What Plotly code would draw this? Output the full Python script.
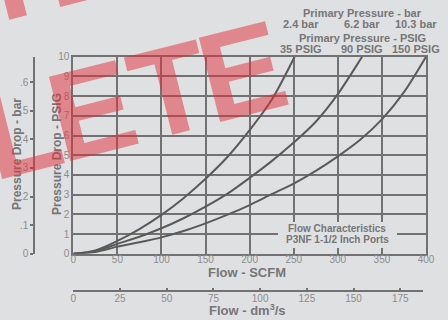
import plotly.graph_objects as go

# ---------------- data ----------------
flow_35 = [0, 25, 50, 75, 100, 125, 150, 175, 200, 225, 251]
drop_35 = [0, 0.17, 0.65, 1.25, 1.97, 2.82, 3.8, 4.92, 6.27, 7.81, 10.0]

flow_90 = [0, 25, 50, 75, 100, 125, 150, 175, 200, 225, 250, 275, 300, 325, 327.5]
drop_90 = [0, 0.13, 0.5, 0.86, 1.29, 1.8, 2.39, 3.05, 3.85, 4.7, 5.64, 6.7, 8.1, 9.82, 10.0]

flow_150 = [0, 25, 50, 75, 100, 125, 150, 175, 200, 225, 250, 275, 300, 325, 350, 375, 400]
drop_150 = [0, 0.09, 0.36, 0.58, 0.83, 1.15, 1.54, 1.98, 2.47, 3.02, 3.56, 4.2, 4.94, 5.77, 6.82, 8.2, 10.0]

scfm_ticks = [0, 50, 100, 150, 200, 250, 300, 350, 400]
psig_ticks = [0, 1, 2, 3, 4, 5, 6, 7, 8, 9, 10]
dm3s_ticks = [0, 25, 50, 75, 100, 125, 150, 175]
bar_ticks = [0, 0.1, 0.2, 0.3, 0.4, 0.5, 0.6]
bar_labels = ["0", ".1", ".2", ".3", ".4", ".5", ".6"]

bar_labels_top = ["2.4 bar", "6.2 bar", "10.3 bar"]
psig_labels_top = ["35 PSIG", "90 PSIG", "150 PSIG"]

W, H = 448, 320
def px(x):
    return x / W
def py(y):
    return 1 - y / H

BG = "#dfe0e2"
GRID = "#727272"
CURVE = "#5a5a5a"
TICK = "#8c8c8c"
TITLE = "#767676"
FONT = "Liberation Sans, Arial, sans-serif"

SCFM_PER_PX = 400 / (426 - 73.3)
x2_max = (423 - 73.3) * SCFM_PER_PX * 0.4719
bar_max = 10 / 14.5038

fig = go.Figure()
for fx, fy in [(flow_35, drop_35), (flow_90, drop_90), (flow_150, drop_150)]:
    fig.add_trace(go.Scatter(x=fx, y=fy, mode="lines", xaxis="x", yaxis="y",
                             line=dict(color=CURVE, width=2, shape="spline", smoothing=0.8),
                             hoverinfo="skip", showlegend=False))
# helper traces so the two secondary scales are drawn
fig.add_trace(go.Scatter(x=[0], y=[0], xaxis="x2", yaxis="y3", mode="markers",
                         marker=dict(opacity=0), hoverinfo="skip", showlegend=False))
fig.add_trace(go.Scatter(x=[0], y=[0], xaxis="x3", yaxis="y2", mode="markers",
                         marker=dict(opacity=0), hoverinfo="skip", showlegend=False))

tickfont = dict(family=FONT, size=10, color=TICK)
hidden = dict(visible=False, fixedrange=True)

fig.update_layout(
    width=W, height=H,
    margin=dict(l=0, r=0, t=0, b=0, autoexpand=False),
    paper_bgcolor=BG, plot_bgcolor=BG,
    showlegend=False,
    xaxis=dict(domain=[px(73.3), px(426)], range=[0, 400], anchor="y",
               tickvals=scfm_ticks, showgrid=True, gridcolor=GRID, gridwidth=2,
               showline=True, mirror=True, linecolor=GRID, linewidth=2,
               ticks="", ticklen=0, ticklabelstandoff=-5,
               zeroline=False, tickfont=tickfont, fixedrange=True),
    yaxis=dict(domain=[py(253.7), py(56.7)], range=[0, 10], anchor="x",
               tickvals=psig_ticks, showgrid=True, gridcolor=GRID, gridwidth=2,
               showline=True, mirror=True, linecolor=GRID, linewidth=2,
               ticks="", ticklen=0, zeroline=False, tickfont=tickfont, fixedrange=True),
    # Flow - dm3/s scale
    xaxis2=dict(domain=[px(73.3), px(423)], range=[0, x2_max], anchor="y3",
                side="bottom", tickvals=dm3s_ticks, showgrid=False,
                showline=True, linecolor=GRID, linewidth=1.5,
                ticks="inside", ticklen=3, tickcolor=GRID, tickwidth=1.5,
                ticklabelstandoff=-2,
                zeroline=False, tickfont=tickfont, fixedrange=True),
    yaxis3=dict(domain=[py(290.4), py(286)], anchor="x2", **hidden),
    # Pressure drop - bar scale
    yaxis2=dict(domain=[py(253.7), py(56.7)], range=[0, bar_max], anchor="x3",
                side="left", tickvals=bar_ticks, ticktext=bar_labels,
                showgrid=False, showline=True, linecolor=GRID, linewidth=1.5,
                ticks="outside", ticklen=3, tickcolor=GRID, tickwidth=1.5,
                zeroline=False, tickfont=tickfont, fixedrange=True),
    xaxis3=dict(domain=[px(35), px(37)], anchor="y2", **hidden),
)

# box behind the chart caption
fig.add_shape(type="rect", xref="paper", yref="paper",
              x0=px(278), x1=px(397), y0=py(248), y1=py(222),
              fillcolor=BG, line=dict(width=0), layer="above")

def note(text, x, y, size, angle=0, color=TITLE):
    fig.add_annotation(text=text, xref="paper", yref="paper", x=px(x), y=py(y),
                       xanchor="center", yanchor="middle", showarrow=False,
                       textangle=angle, font=dict(family=FONT, size=size, color=color))

note("<b>Pressure Drop - bar</b>", 17, 154, 12, -90)
note("<b>Pressure Drop - PSIG</b>", 57, 154, 12, -90)
note("<b>Flow - SCFM</b>", 247, 272, 13)
note("<b>Flow - dm<sup>3</sup>/s</b>", 247, 310, 13)
note("<b>Primary Pressure - bar</b>", 362.7, 13.3, 11)
note("<b>Primary Pressure - PSIG</b>", 362.5, 38.3, 11)
for lab, xc in zip(bar_labels_top, [300.8, 361.5, 415.5]):
    note("<b>%s</b>" % lab, xc, 24.3, 11)
for lab, xc in zip(psig_labels_top, [301.3, 362.3, 416]):
    note("<b>%s</b>" % lab, xc, 49.3, 11)
note("<b>Flow Characteristics</b>", 337, 228.7, 10)
note("<b>P3NF 1-1/2 Inch Ports</b>", 337, 239.3, 10)

# red "OBSOLETE" stamp (visible tail of the word, letter by letter, two rows)
STAMP = "rgba(225,45,55,0.5)"
stamp_letters = ["L", "E", "T", "E"]
row1_centres = [(20, 129), (92, 110), (170, 90.5), (242, 71.5)]
row2_centres = [(-142, 13), (-67, -5.7), (7, -24.6), (82, -43.5)]
for centres in (row1_centres, row2_centres):
    for ch, (cx, cy) in zip(stamp_letters, centres):
        note("<b>%s</b>" % ch, cx, cy, 126, -14.2, STAMP)

fig.write_html(
    "out.html",
    config={"displayModeBar": False},
    post_script="document.body.style.margin='0';document.body.style.background='%s';" % BG,
)
